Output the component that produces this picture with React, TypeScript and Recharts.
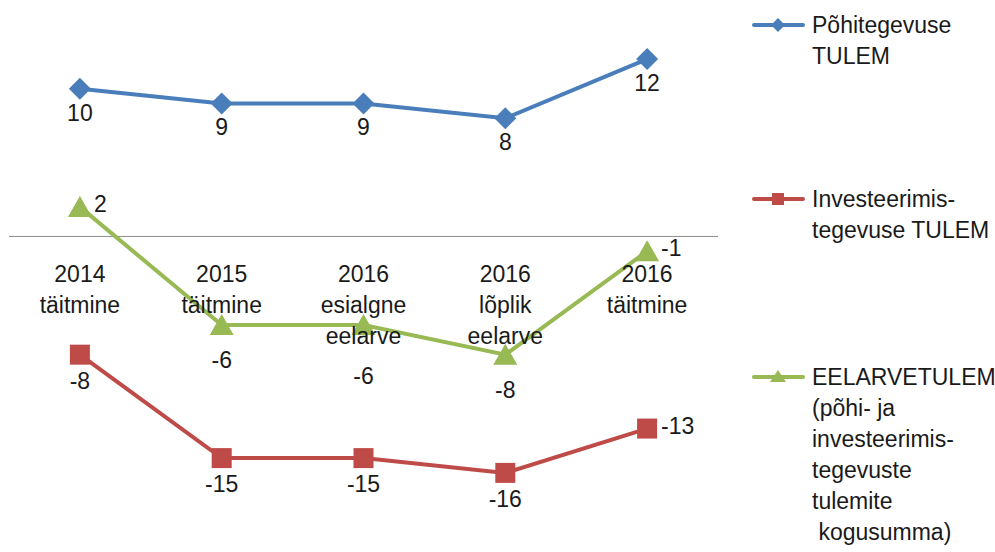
import { LineChart, Line, XAxis, YAxis, ReferenceLine, Legend, LabelList } from 'recharts'

const categories = ['2014\ntäitmine', '2015\ntäitmine', '2016\nesialgne\neelarve', '2016\nlõplik\neelarve', '2016\ntäitmine']
const pohiTulem = [10, 9, 9, 8, 12]
const investTulem = [-8, -15, -15, -16, -13]
const eelarveTulem = [2, -6, -6, -8, -1]

const seriesNames = ['Põhitegevuse\nTULEM', 'Investeerimis-\ntegevuse TULEM', 'EELARVETULEM\n(põhi- ja\ninvesteerimis-\ntegevuste\ntulemite\n kogusumma)']

const data = categories.map((c, i) => ({
  name: c,
  pohi: pohiTulem[i],
  invest: investTulem[i],
  eelarve: eelarveTulem[i],
}))

const BLUE = '#4a7ebb'
const RED = '#be4b48'
const GREEN = '#98b954'
const TEXT = '#1a1a1a'
const FONT = '"Liberation Sans", Arial, sans-serif'
const FS = 23
// ticks are drawn at the zero line instead of the plot bottom
const AXIS_LIFT = 258

const Diamond = ({ cx, cy }: any) => (
  <path d={`M${cx},${cy - 11}L${cx + 11},${cy}L${cx},${cy + 11}L${cx - 11},${cy}Z`} fill={BLUE} />
)
const Square = ({ cx, cy }: any) => <rect x={cx - 10} y={cy - 10} width={20} height={20} fill={RED} />
const Triangle = ({ cx, cy }: any) => (
  <path d={`M${cx},${cy - 11}L${cx + 12},${cy + 10}L${cx - 12},${cy + 10}Z`} fill={GREEN} />
)

const CategoryTick = ({ x, y, payload }: any) => {
  const lines = String(payload.value).split('\n')
  return (
    <text x={x} y={y - AXIS_LIFT} textAnchor="middle" fill={TEXT} fontSize={FS} fontFamily={FONT}>
      {lines.map((l, i) => (
        <tspan key={i} x={x} dy={i === 0 ? 0 : 31}>
          {l}
        </tspan>
      ))}
    </text>
  )
}

// labels sit below the point, or to the right for the listed indexes;
// `pushDown` moves a label further down to clear the category text
const makeLabel = (below: number, rightIdx: number[], pushDown: number[] = []) => (props: any) => {
  const { x, y, value, index } = props
  const right = rightIdx.includes(index)
  const extra = pushDown.includes(index) ? 16 : 0
  return (
    <text
      x={right ? x + 14 : x}
      y={right ? y + 5 : y + below + extra}
      textAnchor={right ? 'start' : 'middle'}
      fill={TEXT}
      fontSize={FS}
      fontFamily={FONT}
    >
      {value}
    </text>
  )
}

const markers = [
  { color: BLUE, shape: 'diamond' },
  { color: RED, shape: 'square' },
  { color: GREEN, shape: 'triangle' },
]

const LegendContent = () => (
  <div style={{ fontFamily: FONT, fontSize: FS, color: TEXT, lineHeight: '31px' }}>
    {seriesNames.map((name, i) => (
      <div key={i} style={{ display: 'flex', alignItems: 'flex-start', marginBottom: i === 0 ? 112 : 116 }}>
        <svg width={60} height={31} style={{ flexShrink: 0 }}>
          <line x1={2} y1={15} x2={51} y2={15} stroke={markers[i].color} strokeWidth={4} strokeLinecap="round" />
          {markers[i].shape === 'diamond' && <path d="M26,8L33,15L26,22L19,15Z" fill={BLUE} />}
          {markers[i].shape === 'square' && <rect x={20} y={9} width={12} height={12} fill={RED} />}
          {markers[i].shape === 'triangle' && <path d="M26,8L34,20L18,20Z" fill={GREEN} />}
        </svg>
        <div style={{ whiteSpace: 'pre' }}>{name}</div>
      </div>
    ))}
  </div>
)

export default function App() {
  return (
    <div style={{ position: 'absolute', left: 0, top: 0, width: 995, height: 552, background: '#fff' }}>
      <LineChart width={995} height={552} data={data} margin={{ top: 0, right: 34, left: 9, bottom: 0 }}>
        <XAxis
          dataKey="name"
          scale="band"
          axisLine={false}
          tickLine={false}
          tick={<CategoryTick />}
          interval={0}
          height={20}
        />
        <YAxis hide domain={[-20, 16]} />
        <ReferenceLine y={0} stroke="#8c8c8c" strokeWidth={1} />
        <Legend
          layout="vertical"
          align="right"
          verticalAlign="top"
          content={<LegendContent />}
          wrapperStyle={{ left: 752, top: 10, width: 243 }}
        />
        <Line
          dataKey="pohi"
          stroke={BLUE}
          strokeWidth={4}
          dot={<Diamond />}
          activeDot={false}
          isAnimationActive={false}
        >
          <LabelList dataKey="pohi" content={makeLabel(32, [])} />
        </Line>
        <Line
          dataKey="invest"
          stroke={RED}
          strokeWidth={4}
          dot={<Square />}
          activeDot={false}
          isAnimationActive={false}
        >
          <LabelList dataKey="invest" content={makeLabel(34, [4])} />
        </Line>
        <Line
          dataKey="eelarve"
          stroke={GREEN}
          strokeWidth={4}
          dot={<Triangle />}
          activeDot={false}
          isAnimationActive={false}
        >
          <LabelList dataKey="eelarve" content={makeLabel(43, [0, 4], [2])} />
        </Line>
      </LineChart>
    </div>
  )
}
